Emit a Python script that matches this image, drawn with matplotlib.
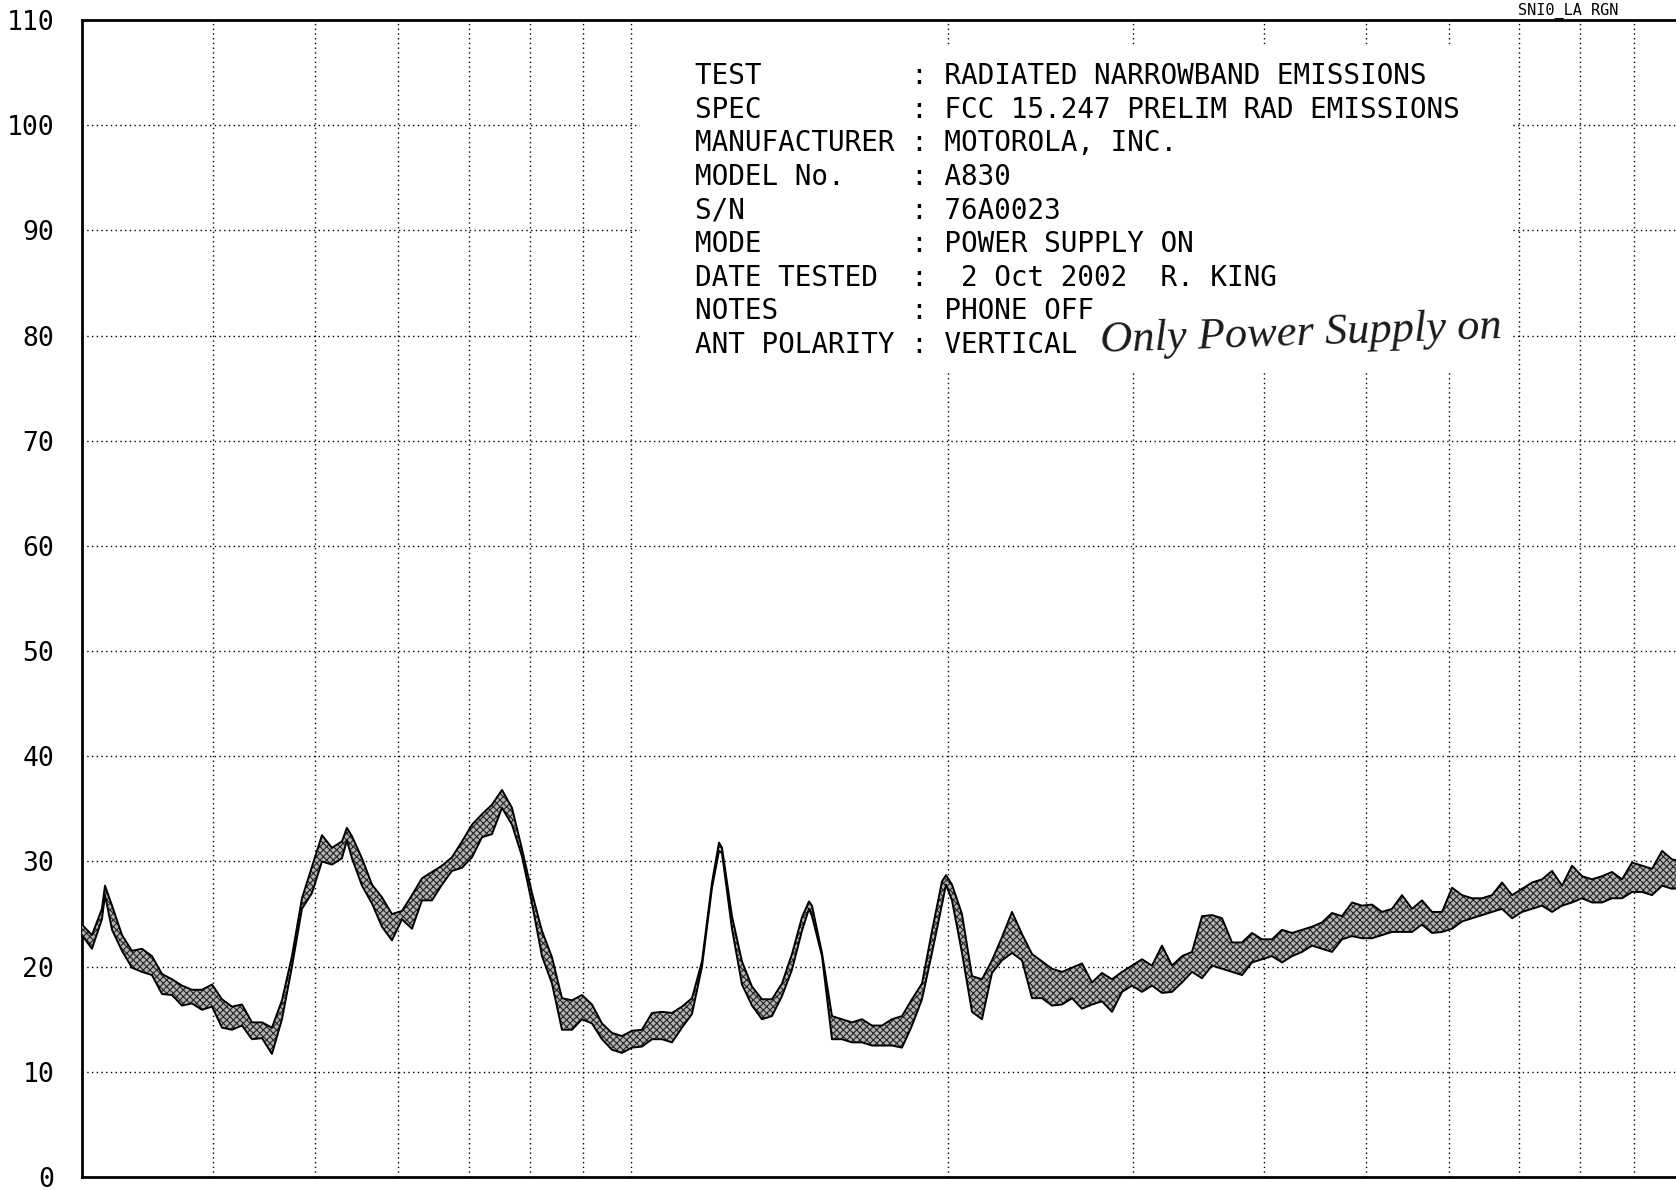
import matplotlib
matplotlib.use('Agg')
import matplotlib.pyplot as plt
from matplotlib.patches import Rectangle

# trace: frequency (MHz), upper and lower edge of the noise band (dBuV/m)
freq_mhz = [30.00, 30.66, 31.34, 31.55, 32.04, 32.75, 33.47, 34.21, 34.97, 35.75,
            36.54, 37.35, 38.18, 39.02, 39.89, 40.77, 41.67, 42.60, 43.54, 44.51,
            45.49, 46.50, 47.53, 48.58, 49.66, 50.76, 51.88, 53.03, 53.61, 54.21,
            55.41, 56.64, 57.89, 59.17, 60.49, 61.83, 63.20, 64.60, 66.03, 67.49,
            68.99, 70.52, 72.08, 73.68, 75.31, 76.98, 78.68, 80.43, 82.21, 84.03,
            85.89, 87.79, 89.74, 91.73, 93.76, 95.84, 97.96, 100.13, 102.35, 104.62,
            106.94, 109.31, 111.73, 114.21, 116.74, 119.33, 121.18, 121.97, 124.67, 127.43,
            130.26, 133.14, 136.09, 139.11, 142.19, 145.34, 147.59, 148.56, 151.86, 155.22,
            158.66, 162.18, 165.77, 169.44, 173.20, 177.04, 180.96, 184.97, 189.07, 193.26,
            197.54, 199.28, 201.92, 206.39, 210.97, 215.64, 220.42, 225.30, 230.30, 235.40,
            240.62, 245.95, 251.40, 256.97, 262.66, 268.48, 274.43, 280.52, 286.73, 293.09,
            299.58, 306.22, 313.00, 319.94, 327.03, 334.28, 341.69, 349.26, 357.00, 364.91,
            372.99, 381.26, 389.71, 398.35, 407.17, 416.20, 425.42, 434.85, 444.48, 454.33,
            464.40, 474.69, 485.21, 495.96, 506.95, 518.19, 529.67, 541.41, 553.41, 565.67,
            578.21, 591.02, 604.12, 617.51, 631.19, 645.18, 659.48, 674.09, 689.03, 704.30,
            719.91, 735.86, 752.17, 768.84, 785.87, 803.29, 821.09, 839.28, 857.88, 876.89,
            896.33, 916.19, 936.49, 957.25, 978.46, 1000.0]

level_hi = [24.0, 23.0, 25.5, 27.7, 25.8, 23.0, 21.5, 21.7, 21.0, 19.3,
            18.8, 18.2, 17.8, 17.8, 18.3, 16.9, 16.2, 16.4, 14.7, 14.7,
            14.2, 16.8, 21.0, 26.5, 29.5, 32.5, 31.3, 31.9, 33.2, 32.4,
            30.3, 27.8, 26.6, 25.0, 25.3, 26.8, 28.4, 29.0, 29.6, 30.4,
            31.9, 33.5, 34.5, 35.4, 36.8, 35.1, 31.2, 27.0, 23.4, 20.9,
            17.0, 16.8, 17.3, 16.4, 14.6, 13.7, 13.4, 13.9, 14.0, 15.6,
            15.7, 15.6, 16.2, 17.0, 20.5, 28.0, 31.8, 31.3, 24.8, 20.5,
            18.1, 16.9, 16.9, 18.4, 21.2, 24.7, 26.2, 25.8, 21.3, 15.3,
            15.0, 14.7, 15.0, 14.4, 14.4, 15.0, 15.3, 16.9, 18.4, 23.4,
            28.1, 28.7, 27.8, 25.0, 19.1, 18.8, 20.6, 22.8, 25.2, 23.1,
            21.2, 20.5, 19.8, 19.5, 19.9, 20.3, 18.5, 19.4, 18.8, 19.5,
            20.1, 20.7, 20.1, 22.0, 20.1, 21.0, 21.4, 24.8, 24.9, 24.6,
            22.3, 22.3, 23.2, 22.6, 22.6, 23.5, 23.2, 23.5, 23.8, 24.2,
            25.1, 24.8, 26.1, 25.8, 25.9, 25.2, 25.5, 26.8, 25.5, 26.3,
            25.2, 25.2, 27.5, 26.8, 26.5, 26.5, 26.8, 28.0, 26.8, 27.4,
            28.0, 28.3, 29.1, 27.7, 29.6, 28.6, 28.3, 28.6, 29.0, 28.3,
            29.9, 29.6, 29.3, 31.0, 30.2, 30.0]

level_lo = [23.0, 21.7, 24.5, 26.8, 23.5, 21.5, 19.9, 19.5, 19.2, 17.4,
            17.3, 16.3, 16.5, 15.9, 16.2, 14.2, 14.0, 14.4, 13.1, 13.2,
            11.7, 15.0, 20.0, 25.5, 27.0, 30.0, 29.7, 30.3, 32.0, 30.3,
            27.7, 26.0, 23.8, 22.5, 24.5, 23.6, 26.3, 26.3, 27.8, 29.1,
            29.4, 30.4, 32.3, 32.6, 35.1, 33.5, 30.5, 26.0, 21.0, 18.4,
            14.0, 14.0, 15.0, 14.6, 13.1, 12.1, 11.8, 12.3, 12.4, 13.1,
            13.1, 12.8, 14.2, 15.5, 20.0, 27.5, 31.0, 30.8, 23.6, 18.3,
            16.3, 15.0, 15.3, 17.2, 19.7, 23.4, 25.5, 24.8, 21.0, 13.1,
            13.1, 12.8, 12.8, 12.5, 12.5, 12.5, 12.3, 14.4, 16.9, 21.3,
            25.9, 27.8, 26.3, 21.3, 15.7, 15.0, 19.4, 20.6, 21.3, 20.6,
            17.0, 17.0, 16.3, 16.4, 17.0, 16.0, 16.4, 16.7, 15.7, 17.6,
            18.2, 17.6, 18.2, 17.5, 17.6, 18.5, 19.5, 18.9, 20.1, 19.8,
            19.5, 19.2, 20.4, 20.7, 21.0, 20.4, 21.0, 21.4, 22.0, 21.7,
            21.4, 22.6, 22.9, 22.7, 22.7, 23.0, 23.3, 23.3, 23.3, 24.0,
            23.2, 23.3, 23.6, 24.3, 24.6, 24.9, 25.2, 25.5, 24.6, 25.2,
            25.5, 25.8, 25.2, 25.8, 26.1, 26.5, 26.1, 26.1, 26.5, 26.5,
            27.1, 27.1, 26.8, 27.7, 27.4, 27.5]

y_ticks = list(range(0, 111, 10))
grid_freqs = [40, 50, 60, 70, 80, 90, 100, 200, 300, 400, 500, 600, 700, 800, 900]

info_labels = ['TEST', 'SPEC', 'MANUFACTURER', 'MODEL No.', 'S/N', 'MODE',
               'DATE TESTED', 'NOTES', 'ANT POLARITY']
info_values = ['RADIATED NARROWBAND EMISSIONS', 'FCC 15.247 PRELIM RAD EMISSIONS',
               'MOTOROLA, INC.', 'A830', '76A0023', 'POWER SUPPLY ON',
               ' 2 Oct 2002  R. KING', 'PHONE OFF', 'VERTICAL']
handwritten_note = 'Only Power Supply on'
corner_label = 'SNI0_LA RGN'

mono = 'DejaVu Sans Mono'
plt.rcParams['hatch.linewidth'] = 0.8

fig = plt.figure(figsize=(16.76, 11.9), dpi=100)
ax = fig.add_axes([0.04893, 0.01092, 0.95465, 0.97227])

ax.set_xscale('log')
ax.set_xlim(30, 1000)
ax.set_ylim(0, 110)
ax.set_xticks(grid_freqs)
ax.set_xticks([], minor=True)
ax.tick_params(axis='x', which='both', length=0, labelbottom=False)
ax.set_yticks(y_ticks)
ax.tick_params(axis='y', length=0, pad=20, labelsize=19)
for lab in ax.get_yticklabels():
    lab.set_family(mono)

ax.grid(True, linestyle=(0, (1, 2.4)), linewidth=1.0, color='black')
for s in ax.spines.values():
    s.set_linewidth(2.0)

# white panel behind the header text hides the grid there
ax.add_patch(Rectangle((0.349, 0.6958), 0.5435, 0.2826, transform=ax.transAxes,
                       facecolor='white', edgecolor='none', zorder=2))

for k, (lab, val) in enumerate(zip(info_labels, info_values)):
    y_px = 76 + 33.6 * k
    ax.text(0.383, (1177 - y_px) / 1157, f'{lab:<12} : {val}', family=mono,
            fontsize=19.9, va='center', ha='left', transform=ax.transAxes, zorder=4)

ax.text(0.762, 0.7285, handwritten_note, family='Liberation Serif', style='italic',
        fontsize=32, rotation=2, ha='center', va='center', color='0.1',
        transform=ax.transAxes, zorder=4)

fig.text(0.9057, 0.9875, corner_label, family=mono, fontsize=11, va='baseline')

# trace: hatched noise band with black edges
ax.fill_between(freq_mhz, level_lo, level_hi, facecolor='0.7', edgecolor='0.15',
                hatch='xxxxx', linewidth=0, zorder=3)
ax.plot(freq_mhz, level_hi, color='black', lw=1.4, zorder=4)
ax.plot(freq_mhz, level_lo, color='black', lw=1.4, zorder=4)

fig.savefig('out.png', dpi=100)
